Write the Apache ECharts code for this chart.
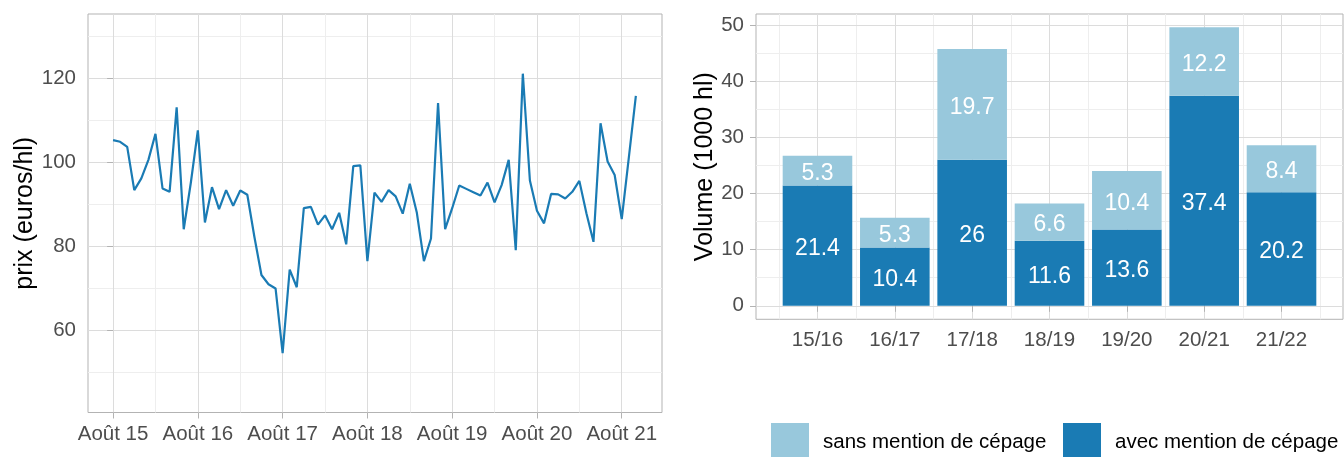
<!DOCTYPE html>
<html><head><meta charset="utf-8">
<script src="https://cdn.jsdelivr.net/npm/echarts@6/dist/echarts.min.js"></script>
<style>html,body{margin:0;padding:0;background:#fff}#c{width:1344px;height:457px}</style>
</head><body><div id="c"></div>
<script>
// ---- Données : prix mensuels (euros/hl) ----
const prixMois = [
 '2015-08','2015-09','2015-10','2015-11','2015-12',
 '2016-01','2016-02','2016-03','2016-04','2016-05','2016-06','2016-07','2016-08','2016-09','2016-10','2016-11','2016-12',
 '2017-01','2017-02','2017-03','2017-04','2017-05','2017-06','2017-07','2017-08','2017-09','2017-10','2017-11','2017-12',
 '2018-01','2018-02','2018-03','2018-04','2018-05','2018-06','2018-07','2018-08','2018-09','2018-10','2018-11','2018-12',
 '2019-01','2019-02','2019-03','2019-04','2019-05','2019-06','2019-07','2019-08','2019-09','2019-10','2019-11','2019-12',
 '2020-01','2020-02','2020-03','2020-04','2020-05','2020-06','2020-07','2020-08','2020-09','2020-10','2020-11','2020-12',
 '2021-01','2021-02','2021-03','2021-04','2021-05','2021-06','2021-07','2021-08','2021-09','2021-10'
];
const prixValeurs = [
 105.2,104.8,103.6,93.3,96.1,
 100.5,106.7,93.7,92.9,113.0,84.0,95.0,107.5,85.6,94.0,88.8,93.3,
 89.6,93.2,92.2,82.2,73.1,70.9,69.9,54.5,74.4,70.2,89.0,89.3,
 85.1,87.3,84.0,87.9,80.4,99.0,99.2,76.4,92.7,90.5,93.3,91.8,
 87.7,94.8,87.9,76.4,81.8,114.0,84.0,89.0,94.4,93.6,92.8,92.0,
 95.1,90.4,94.5,100.5,79.0,121.0,95.6,88.4,85.4,92.4,92.3,91.3,
 92.9,95.5,87.8,81.0,109.2,100.1,96.9,86.4,101.0,115.7
];
const prixTickMois = ['2015-08','2016-08','2017-08','2018-08','2019-08','2020-08','2021-08'];
const prixTickLabels = ['Août 15','Août 16','Août 17','Août 18','Août 19','Août 20','Août 21'];
const prixYTicks = [60, 80, 100, 120];

// ---- Données : volumes (1000 hl) ----
const campagnes = ['15/16','16/17','17/18','18/19','19/20','20/21','21/22'];
const avecMention = [21.4, 10.4, 26, 11.6, 13.6, 37.4, 20.2];
const sansMention = [5.3, 5.3, 19.7, 6.6, 10.4, 12.2, 8.4];
const volumeYTicks = [0, 10, 20, 30, 40, 50];
const legendeNoms = ['sans mention de cépage', 'avec mention de cépage'];

// ---- Helpers ----
function moisIndex(s) { const p = s.split('-'); return (+p[0] - 2015) * 12 + (+p[1] - 8); }
function milieux(arr, step) { const out = []; for (let i = 0; i < arr.length; i++) out.push(arr[i] + step / 2); return out; }

const FONT = "'Liberation Sans', Arial, sans-serif";
const DARK = '#1a7bb4', LIGHT = '#98c8dc';
const GRID_MAJ = '#dcdcdc', GRID_MIN = '#eeeeee', BORDER = '#b3b3b3', TXT = '#4d4d4d';

const xTickPos = prixTickMois.map(moisIndex);
const xMinorPos = milieux(xTickPos, 12).filter(v => v < 77.7);
const yMinorPrix = [50, 70, 90, 110, 130];
const barPos = campagnes.map((c, i) => i + 1);
const barMinor = [0.5].concat(barPos.map(p => p + 0.5));
const yMinorVol = milieux(volumeYTicks.slice(0, -1), 10);

function majorAxis(extra) {
  return Object.assign({
    type: 'value',
    axisLine: { show: false },
    splitLine: { show: true, lineStyle: { color: GRID_MAJ, width: 1 } },
    axisTick: { show: true, length: 6, lineStyle: { color: BORDER, width: 1 } },
    axisLabel: { color: TXT, fontSize: 20.5, fontFamily: FONT, margin: 11 },
    z: 1
  }, extra);
}
function minorAxis(extra, vals) {
  return Object.assign({
    type: 'value',
    axisLine: { show: false },
    axisLabel: { show: false },
    axisTick: { show: false, customValues: vals },
    splitLine: { show: true, lineStyle: { color: GRID_MIN, width: 1 } },
    z: 0
  }, extra);
}

const chart = echarts.init(document.getElementById('c'), null, { renderer: 'canvas' });
const xAxes = [
  majorAxis({ gridIndex: 0, min: -3.55, max: 77.7,
    axisTick: { show: true, length: 6, lineStyle: { color: BORDER }, customValues: xTickPos },
    axisLabel: { color: TXT, fontSize: 20.5, fontFamily: FONT, margin: 11, customValues: xTickPos,
      formatter: v => prixTickLabels[xTickPos.indexOf(v)] } }),
  minorAxis({ gridIndex: 0, min: -3.55, max: 77.7 }, xMinorPos),
  majorAxis({ gridIndex: 1, min: 0.205, max: 7.795,
    axisTick: { show: true, length: 6, lineStyle: { color: BORDER }, customValues: barPos },
    axisLabel: { color: TXT, fontSize: 20.5, fontFamily: FONT, margin: 11, customValues: barPos,
      formatter: v => campagnes[Math.round(v) - 1] } }),
  minorAxis({ gridIndex: 1, min: 0.205, max: 7.795 }, barMinor)
];
const yAxes = [
  majorAxis({ gridIndex: 0, min: 40.4, max: 135.2,
    name: 'prix (euros/hl)', nameLocation: 'middle', nameGap: 50,
    nameTextStyle: { fontSize: 25, color: '#000', fontFamily: FONT },
    axisTick: { show: true, length: 6, lineStyle: { color: BORDER }, customValues: prixYTicks },
    axisLabel: { color: TXT, fontSize: 20.5, fontFamily: FONT, margin: 12, customValues: prixYTicks } }),
  minorAxis({ gridIndex: 0, min: 40.4, max: 135.2 }, yMinorPrix),
  majorAxis({ gridIndex: 1, min: -2.4, max: 51.95,
    name: 'Volume (1000 hl)', nameLocation: 'middle', nameGap: 38,
    nameTextStyle: { fontSize: 25, color: '#000', fontFamily: FONT },
    axisTick: { show: true, length: 6, lineStyle: { color: BORDER }, customValues: volumeYTicks },
    axisLabel: { color: TXT, fontSize: 20.5, fontFamily: FONT, margin: 12, customValues: volumeYTicks } }),
  minorAxis({ gridIndex: 1, min: -2.4, max: 51.95 }, yMinorVol)
];

const barLabel = { show: true, position: 'inside', offset: [0, 3], color: '#fff', fontSize: 23, fontFamily: FONT,
  formatter: p => String(p.value[0]) };

function legende(nom, left) {
  return {
    data: [nom], left: left, top: 423, orient: 'horizontal', padding: 0,
    icon: 'rect', itemWidth: 38, itemHeight: 38, itemGap: 0,
    itemStyle: { borderWidth: 0 },
    textStyle: { fontSize: 20.5, color: '#000', fontFamily: FONT, padding: [0, 0, 0, 9] },
    selectedMode: false
  };
}

chart.setOption({
  animation: false,
  backgroundColor: '#fff',
  textStyle: { fontFamily: FONT },
  grid: [
    { left: 88, top: 14, width: 574, height: 398.5, show: true, borderColor: BORDER, borderWidth: 1, backgroundColor: 'transparent', containLabel: false },
    { left: 756, top: 14, width: 587, height: 305.3, show: true, borderColor: BORDER, borderWidth: 1, backgroundColor: 'transparent', containLabel: false }
  ],
  xAxis: xAxes,
  yAxis: yAxes,
  legend: [legende(legendeNoms[0], 771), legende(legendeNoms[1], 1063)],
  series: [
    { type: 'line', name: 'prix', xAxisIndex: 0, yAxisIndex: 0,
      data: prixMois.map((m, i) => [moisIndex(m), prixValeurs[i]]),
      showSymbol: false, symbol: 'none', z: 5,
      lineStyle: { color: DARK, width: 2.2 }, itemStyle: { color: DARK } },
    { type: 'bar', name: legendeNoms[1], xAxisIndex: 2, yAxisIndex: 2, stack: 'vol',
      data: avecMention.map((v, i) => [v, barPos[i]]), encode: { x: 1, y: 0 },
      barWidth: 69.6, itemStyle: { color: DARK }, label: barLabel, z: 5 },
    { type: 'bar', name: legendeNoms[0], xAxisIndex: 2, yAxisIndex: 2, stack: 'vol',
      data: sansMention.map((v, i) => [v, barPos[i]]), encode: { x: 1, y: 0 },
      barWidth: 69.6, itemStyle: { color: LIGHT }, label: barLabel, z: 5 }
  ]
});
</script></body></html>
